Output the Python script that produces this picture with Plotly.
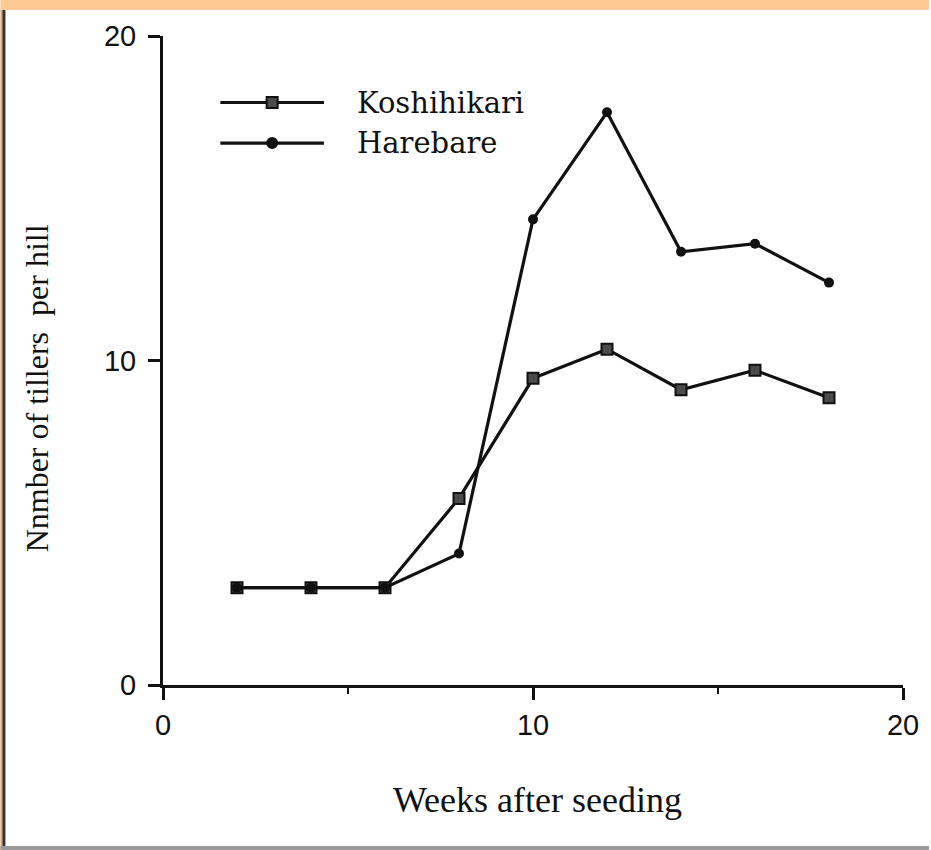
import plotly.graph_objects as go

# Tiller counts per hill, by weeks after seeding
weeks = [2, 4, 6, 8, 10, 12, 14, 16, 18]
koshihikari = [3.0, 3.0, 3.0, 5.75, 9.45, 10.35, 9.1, 9.7, 8.85]
harebare = [3.0, 3.0, 3.0, 4.05, 14.35, 17.65, 13.35, 13.6, 12.4]

x_ticks = [0, 10, 20]
y_ticks = [0, 10, 20]

W, H = 931, 850
L, R, T, B = 163, 26, 36, 165
plot_h = H - T - B
plot_w = W - L - R

def py(pix):
    """pixel row -> paper y"""
    return (H - B - pix) / plot_h

def px(pix):
    """pixel column -> paper x"""
    return (pix - L) / plot_w

ink = "#111111"

fig = go.Figure()

fig.add_trace(go.Scatter(
    x=weeks, y=koshihikari, mode="lines+markers", name="Koshihikari",
    line=dict(color=ink, width=3.2),
    marker=dict(symbol="square", size=11, color="#4a4a4a",
                line=dict(color=ink, width=2)),
    showlegend=False, cliponaxis=False,
))
fig.add_trace(go.Scatter(
    x=weeks, y=harebare, mode="lines+markers", name="Harebare",
    line=dict(color=ink, width=3.2),
    marker=dict(symbol="circle", size=10, color=ink),
    showlegend=False, cliponaxis=False,
))

# Legend key drawn inside the plot area
legend_rows = [("Koshihikari", 17.95, "square", 11, "#4a4a4a"),
               ("Harebare", 16.7, "circle", 10, ink)]
for label, yv, sym, sz, col in legend_rows:
    fig.add_trace(go.Scatter(
        x=[1.55, 4.35], y=[yv, yv], mode="lines",
        line=dict(color=ink, width=3.2), showlegend=False, hoverinfo="skip",
    ))
    fig.add_trace(go.Scatter(
        x=[2.95], y=[yv], mode="markers",
        marker=dict(symbol=sym, size=sz, color=col, line=dict(color=ink, width=2)),
        showlegend=False, hoverinfo="skip",
    ))
    fig.add_annotation(x=5.2, y=yv, text=label, showarrow=False,
                       xanchor="left", yanchor="middle",
                       font=dict(family="DejaVu Serif", size=29, color=ink))

axis_common = dict(
    showline=True, linecolor=ink, linewidth=3, showgrid=False, zeroline=False,
    ticks="outside", ticklen=12, tickwidth=3, tickcolor=ink,
    tickfont=dict(family="Liberation Sans Narrow, Liberation Sans", size=29,
                  color=ink),
)
fig.update_xaxes(range=[0, 20], tickvals=x_ticks, ticktext=[str(v) for v in x_ticks],
                 minor=dict(tickvals=[5, 15], ticks="outside", ticklen=6,
                            tickwidth=2, tickcolor=ink),
                 **axis_common)
fig.update_yaxes(range=[0, 20], tickvals=y_ticks, ticktext=[str(v) for v in y_ticks],
                 ticklabelstandoff=6, **axis_common)

# Axis titles
fig.add_annotation(xref="paper", yref="paper", x=px(539), y=py(800),
                   text="Weeks after seeding", showarrow=False,
                   xanchor="center", yanchor="middle",
                   font=dict(family="Liberation Serif", size=36, color=ink))
fig.add_annotation(xref="paper", yref="paper", x=px(37), y=py(388),
                   text="Nnmber of tillers  per hill", showarrow=False, textangle=-90,
                   xanchor="center", yanchor="middle",
                   font=dict(family="Liberation Serif", size=32, color=ink))

# Page frame: peach band on top, dark edge left, grey rule at bottom
fig.add_shape(type="rect", xref="paper", yref="paper",
              x0=px(0), x1=px(W), y0=py(10), y1=py(0),
              fillcolor="#ffc994", line=dict(width=0), layer="below")
fig.add_shape(type="rect", xref="paper", yref="paper",
              x0=px(0), x1=px(2), y0=py(H), y1=py(10),
              fillcolor="#f0a060", line=dict(width=0), layer="below")
fig.add_shape(type="rect", xref="paper", yref="paper",
              x0=px(2), x1=px(5), y0=py(H), y1=py(10),
              fillcolor="#333333", line=dict(width=0), layer="below")
fig.add_shape(type="rect", xref="paper", yref="paper",
              x0=px(0), x1=px(W), y0=py(H), y1=py(846),
              fillcolor="#9a9a9a", line=dict(width=0), layer="below")

fig.update_layout(
    width=W, height=H,
    margin=dict(l=L, r=R, t=T, b=B),
    paper_bgcolor="white", plot_bgcolor="white",
    showlegend=False,
)

fig.write_html("out.html")
